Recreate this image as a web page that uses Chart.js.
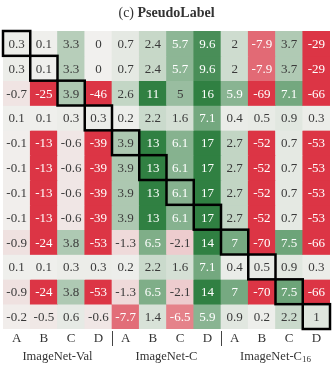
<!DOCTYPE html>
<html>
<head>
<meta charset="utf-8">
<script src="https://cdn.jsdelivr.net/npm/chart.js@4"></script>
<style>
  body { margin: 0; background: #fff; }
</style>
</head>
<body>
<canvas id="heatmap" width="333" height="366"></canvas>
<script>
// column labels under the cells
const colLabels = ['A', 'B', 'C', 'D', 'A', 'B', 'C', 'D', 'A', 'B', 'C', 'D'];
// dataset groups, 4 columns each
const groupNames = ['ImageNet-Val', 'ImageNet-C', 'ImageNet-C'];
const groupSubs = ['', '', '16'];

// one row of values per line of the heatmap (top to bottom)
const values = [
    [0.3, 0.1, 3.3, 0, 0.7, 2.4, 5.7, 9.6, 2, -7.9, 3.7, -29],
    [0.3, 0.1, 3.3, 0, 0.7, 2.4, 5.7, 9.6, 2, -7.9, 3.7, -29],
    [-0.7, -25, 3.9, -46, 2.6, 11, 5, 16, 5.9, -69, 7.1, -66],
    [0.1, 0.1, 0.3, 0.3, 0.2, 2.2, 1.6, 7.1, 0.4, 0.5, 0.9, 0.3],
    [-0.1, -13, -0.6, -39, 3.9, 13, 6.1, 17, 2.7, -52, 0.7, -53],
    [-0.1, -13, -0.6, -39, 3.9, 13, 6.1, 17, 2.7, -52, 0.7, -53],
    [-0.1, -13, -0.6, -39, 3.9, 13, 6.1, 17, 2.7, -52, 0.7, -53],
    [-0.1, -13, -0.6, -39, 3.9, 13, 6.1, 17, 2.7, -52, 0.7, -53],
    [-0.9, -24, 3.8, -53, -1.3, 6.5, -2.1, 14, 7, -70, 7.5, -66],
    [0.1, 0.1, 0.3, 0.3, 0.2, 2.2, 1.6, 7.1, 0.4, 0.5, 0.9, 0.3],
    [-0.9, -24, 3.8, -53, -1.3, 6.5, -2.1, 14, 7, -70, 7.5, -66],
    [-0.2, -0.5, 0.6, -0.6, -7.7, 1.4, -6.5, 5.9, 0.9, 0.2, 2.2, 1]
];

const SERIF = '"Liberation Serif", "DejaVu Serif", serif';
const mid = [241, 240, 238];
const red = [220, 53, 69];
const green = [48, 128, 66];

function cellColor(v) {
    const t = Math.min(1, Math.abs(v) / 11);
    const end = v < 0 ? red : green;
    const c = mid.map((m, i) => Math.round(m + (end[i] - m) * t));
    return `rgb(${c[0]}, ${c[1]}, ${c[2]})`;
}

function textColor(v) {
    if (v <= -6 || v >= 5.5) return '#ffffff';
    return '#3a3a3a';
}

const cellText = {
    id: 'cellText',
    afterDatasetsDraw(chart) {
        const ctx = chart.ctx;
        const x = chart.scales.x;
        const y = chart.scales.y;
        ctx.save();
        ctx.font = '13px ' + SERIF;
        ctx.textAlign = 'center';
        ctx.textBaseline = 'middle';
        values.forEach((row, r) => {
            row.forEach((v, c) => {
                ctx.fillStyle = textColor(v);
                ctx.fillText(String(v), x.getPixelForValue(c), y.getPixelForValue(r + 0.5) + 1);
            });
        });

        // boxes on the diagonal
        ctx.strokeStyle = '#000';
        ctx.lineWidth = 2.5;
        for (let i = 0; i < values.length; i++) {
            const x0 = x.getPixelForValue(i - 0.5);
            const x1 = x.getPixelForValue(i + 0.5);
            const y0 = y.getPixelForValue(i);
            const y1 = y.getPixelForValue(i + 1);
            ctx.strokeRect(x0, y0, x1 - x0, y1 - y0);
        }
        ctx.restore();
    },
    afterDraw(chart) {
        const ctx = chart.ctx;
        const x = chart.scales.x;
        const bottom = chart.chartArea.bottom;
        ctx.save();
        ctx.fillStyle = '#333';
        ctx.textAlign = 'center';
        ctx.textBaseline = 'middle';

        // title, "(c)" regular and name in bold
        const pre = '(c) ';
        const name = 'PseudoLabel';
        ctx.font = '14px ' + SERIF;
        const w1 = ctx.measureText(pre).width;
        ctx.font = 'bold 14px ' + SERIF;
        const w2 = ctx.measureText(name).width;
        const cx = (chart.chartArea.left + chart.chartArea.right) / 2;
        let tx = cx - (w1 + w2) / 2;
        ctx.textAlign = 'left';
        ctx.font = '14px ' + SERIF;
        ctx.fillText(pre, tx, 13);
        ctx.font = 'bold 14px ' + SERIF;
        ctx.fillText(name, tx + w1, 13);

        // column letters
        ctx.textAlign = 'center';
        ctx.font = '13px ' + SERIF;
        colLabels.forEach((lab, i) => {
            ctx.fillText(lab, x.getPixelForValue(i), bottom + 10);
        });

        // group separators
        ctx.strokeStyle = '#444';
        ctx.lineWidth = 1;
        [4, 8].forEach(i => {
            const px = Math.round(x.getPixelForValue(i - 0.5)) + 0.5;
            ctx.beginPath();
            ctx.moveTo(px, bottom + 2);
            ctx.lineTo(px, bottom + 17);
            ctx.stroke();
        });

        // group names
        groupNames.forEach((g, k) => {
            const gx = (x.getPixelForValue(k * 4) + x.getPixelForValue(k * 4 + 3)) / 2;
            ctx.font = '12.5px ' + SERIF;
            const wMain = ctx.measureText(g).width;
            ctx.font = '9px ' + SERIF;
            const wSub = groupSubs[k] ? ctx.measureText(groupSubs[k]).width : 0;
            const start = gx - (wMain + wSub) / 2;
            ctx.textAlign = 'left';
            ctx.font = '12.5px ' + SERIF;
            ctx.fillText(g, start, bottom + 28);
            if (groupSubs[k]) {
                ctx.font = '9px ' + SERIF;
                ctx.fillText(groupSubs[k], start + wMain, bottom + 31);
            }
        });
        ctx.restore();
    }
};

const datasets = values.map((row, r) => ({
    data: row.map(() => [r, r + 1]),
    backgroundColor: row.map(cellColor),
    borderWidth: 0,
    barPercentage: 1,
    categoryPercentage: 1,
    grouped: false
}));

new Chart(document.getElementById('heatmap').getContext('2d'), {
    type: 'bar',
    data: {
        labels: colLabels,
        datasets: datasets
    },
    options: {
        responsive: false,
        animation: false,
        layout: {
            padding: { left: 3, right: 3, top: 31, bottom: 37 }
        },
        scales: {
            x: { display: false },
            y: { display: false, min: 0, max: 12, reverse: true }
        },
        plugins: {
            legend: { display: false },
            tooltip: { enabled: false },
            title: { display: false }
        }
    },
    plugins: [cellText]
});
</script>
</body>
</html>
